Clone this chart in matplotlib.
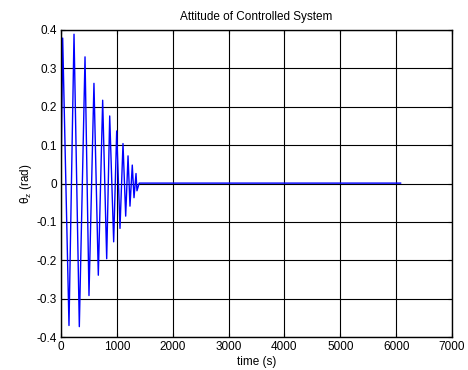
import matplotlib
matplotlib.use("Agg")
from matplotlib import pyplot as plt

# alternating peaks / troughs of the controlled attitude response
peak_t = [0, 30, 143, 233, 328, 430, 501, 590, 668, 746, 818, 872, 943, 997,
          1056, 1110, 1158, 1200, 1235, 1276, 1307, 1343, 1360, 1400, 6080]
peak_theta = [0.0, 0.379, -0.370, 0.389, -0.373, 0.330, -0.292, 0.261, -0.239,
              0.217, -0.196, 0.176, -0.152, 0.137, -0.117, 0.104, -0.085,
              0.072, -0.059, 0.048, -0.037, 0.026, -0.019, 0.001, 0.001]

x_ticks = [0, 1000, 2000, 3000, 4000, 5000, 6000, 7000]
y_ticks = [-0.4, -0.3, -0.2, -0.1, 0, 0.1, 0.2, 0.3, 0.4]
y_tick_labels = ["-0.4", "-0.3", "-0.2", "-0.1", "0", "0.1", "0.2", "0.3", "0.4"]

plt.rcParams["font.family"] = ["Liberation Sans", "DejaVu Sans"]
plt.rcParams["mathtext.fontset"] = "custom"
plt.rcParams["mathtext.rm"] = "Liberation Sans"
plt.rcParams["mathtext.it"] = "Liberation Sans"

fig = plt.figure(figsize=(4.68, 3.70), dpi=100)
ax = fig.add_axes([61 / 468, 1 - 337 / 370, (452 - 61) / 468, (337 - 30) / 370])

ax.plot(peak_t, peak_theta, color="#0000ff", linewidth=1.0)

ax.set_xlim(0, 7000)
ax.set_ylim(-0.4, 0.4)
ax.set_xticks(x_ticks)
ax.set_yticks(y_ticks)
ax.set_yticklabels(y_tick_labels)
ax.grid(True, color="black", linestyle="-", linewidth=0.8)
ax.tick_params(direction="in", top=True, right=True, labelsize=8.5, length=3, pad=3)
for s in ax.spines.values():
    s.set_linewidth(1.0)

ax.set_title("Attitude of Controlled System", fontsize=8.5, pad=7)
ax.set_xlabel("time (s)", fontsize=8.5, labelpad=2)
ax.set_ylabel(r"$\mathregular{\theta_z}$ (rad)", fontsize=8.5, labelpad=2)

fig.savefig("out.png", dpi=100)
